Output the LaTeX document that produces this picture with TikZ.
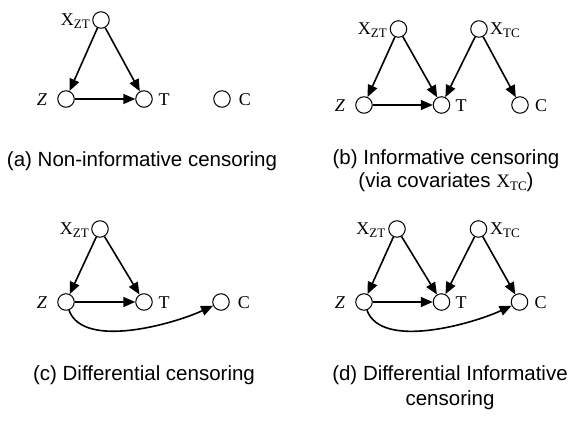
\documentclass[tikz,border=0pt]{standalone}
\usepackage{fontspec}
\setmainfont{Liberation Serif}
\newfontfamily\capfont{Liberation Sans}
\usetikzlibrary{arrows.meta}
\newcommand{\Xs}[1]{X\raisebox{-0.3ex}{\fontsize{13}{13}\selectfont #1}}
\begin{document}
\begin{tikzpicture}[x=1pt,y=-1pt,
  v/.style={circle,draw,line width=1pt,minimum size=16.5pt,inner sep=0pt},
  lab/.style={font=\fontsize{18}{20}\selectfont,inner sep=0pt},
  e/.style={line width=1.6pt,-{Triangle[length=12pt,width=10pt]}},
  captxt/.style={font=\capfont\fontsize{20.5}{24}\selectfont,inner sep=0pt,anchor=base}]
\useasboundingbox (0,0) rectangle (576,422);

% (a)
\node[v] (aX) at (101,20) {};
\node[v] (aZ) at (66,99) {};
\node[v] (aT) at (144,99) {};
\node[v] (aC) at (222,99) {};
\node[lab,anchor=east] (aXl) at (90,21) {\Xs{ZT}};
\node[lab] (aZl) at (42,100) {\textit{Z}};
\node[lab] (aTl) at (164,100) {T};
\node[lab] (aCl) at (245,100) {C};
\draw[e] (aX) -- (aZ);
\draw[e] (aX) -- (aT);
\draw[e] (aZ) -- (aT);
\node[captxt] (acap) at (142,167) {(a) Non-informative censoring};

% (b)
\node[v] (bX) at (398.5,29) {};
\node[v] (bY) at (479,29) {};
\node[v] (bZ) at (364,105) {};
\node[v] (bT) at (441.5,105) {};
\node[v] (bC) at (520,105) {};
\node[lab,anchor=east] (bXl) at (387,30) {\Xs{ZT}};
\node[lab,anchor=west] (bYl) at (490,30) {\Xs{TC}};
\node[lab] (bZl) at (340,106) {\textit{Z}};
\node[lab] (bTl) at (461,106) {T};
\node[lab] (bCl) at (541,106) {C};
\draw[e] (bX) -- (bZ);
\draw[e] (bX) -- (bT);
\draw[e] (bZ) -- (bT);
\draw[e] (bY) -- (bT);
\draw[e] (bY) -- (bC);
\node[captxt] (bcap1) at (446,165) {(b) Informative censoring};
\node[captxt] (bcap2) at (446,188) {(via covariates {\rmfamily\fontsize{19}{20}\selectfont\Xs{TC}})};

% (c)
\node[v] (cX) at (100,229) {};
\node[v] (cZ) at (66,302) {};
\node[v] (cT) at (144,302) {};
\node[v] (cC) at (221,302) {};
\node[lab,anchor=east] (cXl) at (89,230) {\Xs{ZT}};
\node[lab] (cZl) at (42,303) {\textit{Z}};
\node[lab] (cTl) at (164,303) {T};
\node[lab] (cCl) at (244,303) {C};
\draw[e] (cX) -- (cZ);
\draw[e] (cX) -- (cT);
\draw[e] (cZ) -- (cT);
\draw[e] (cZ) to[out=-70,in=-155,looseness=0.75] (cC);
\node[captxt] (ccap) at (144,380) {(c) Differential censoring};

% (d)
\node[v] (dX) at (397,229) {};
\node[v] (dY) at (478.5,229) {};
\node[v] (dZ) at (364,302) {};
\node[v] (dT) at (441.5,302) {};
\node[v] (dC) at (519.5,302) {};
\node[lab,anchor=east] (dXl) at (385.5,230) {\Xs{ZT}};
\node[lab,anchor=west] (dYl) at (490,230) {\Xs{TC}};
\node[lab] (dZl) at (340,303) {\textit{Z}};
\node[lab] (dTl) at (461,303) {T};
\node[lab] (dCl) at (540.5,303) {C};
\draw[e] (dX) -- (dZ);
\draw[e] (dX) -- (dT);
\draw[e] (dZ) -- (dT);
\draw[e] (dY) -- (dT);
\draw[e] (dY) -- (dC);
\draw[e] (dZ) to[out=-70,in=-155,looseness=0.75] (dC);
\node[captxt] (dcap1) at (450,380) {(d) Differential Informative};
\node[captxt] (dcap2) at (450,405) {censoring};
\end{tikzpicture}
\end{document}
